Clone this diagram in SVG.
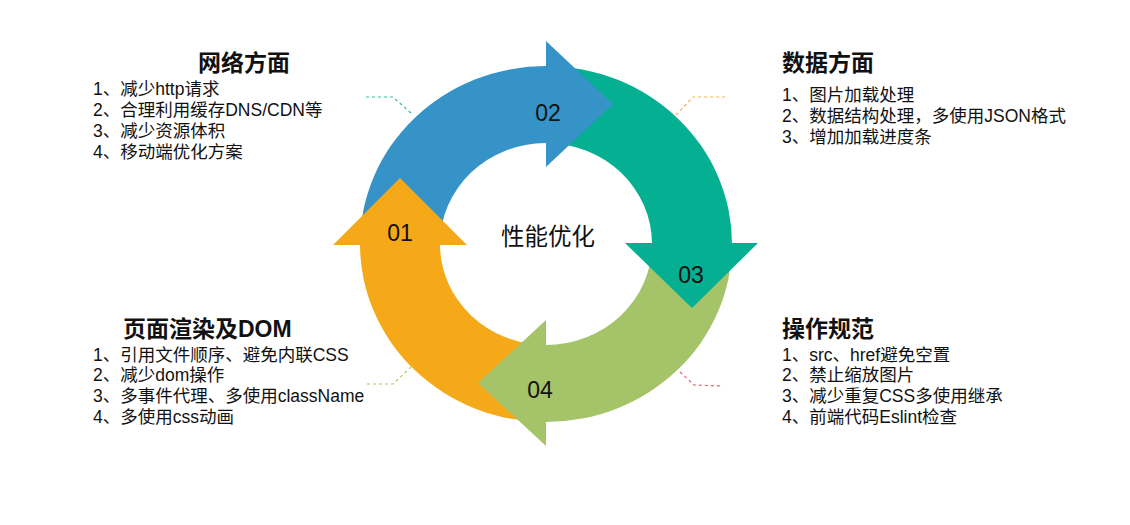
<svg xmlns="http://www.w3.org/2000/svg" width="1130" height="525" viewBox="0 0 1130 525">
<style>
text{font-family:"Liberation Sans","Noto Sans CJK SC",sans-serif;fill:#111}
.title{font-size:23px;font-weight:bold}
.item{font-size:17.5px}
.num{font-size:23px}
.center{font-size:23.5px}
.lead{fill:none;stroke-width:1.2;stroke-dasharray:3 3}
</style>
<rect width="1130" height="525" fill="#fff"/>
<g id="connectors">
<path class="lead" stroke="#3dbba0" d="M366,97 L393,97 L412,114"/>
<path class="lead" stroke="#f5b04a" d="M676,115 L693,97 L727,97"/>
<path class="lead" stroke="#bcc65a" d="M367,384 L393,384 L411,367"/>
<path class="lead" stroke="#e86565" d="M680,372 L694,385 L723,386"/>
</g>
<g id="ring">
<path fill="#3593C7" d="M360,244 A186,178 0 0 1 546,66 L546,143 A106,101 0 0 0 440,244 Z"/>
<path fill="#05AF92" d="M546,66 A186,178 0 0 1 732,244 L652,244 A106,101 0 0 0 546,143 Z"/>
<path fill="#A5C368" d="M732,244 A186,178 0 0 1 546,422 L546,345 A106,101 0 0 0 652,244 Z"/>
<path fill="#F5A918" d="M546,422 A186,178 0 0 1 360,244 L440,244 A106,101 0 0 0 546,345 Z"/>
<polygon fill="#3593C7" points="546,41 613,104 546,167"/>
<polygon fill="#05AF92" points="625,243 758,243 692,308"/>
<polygon fill="#A5C368" points="546,320 546,446 478,383"/>
<polygon fill="#F5A918" points="333,245 467,245 400,178"/>
</g>
<g id="center"><text class="center" x="548" y="245" text-anchor="middle">性能优化</text></g>
<g id="n01"><text class="num" x="400" y="241" text-anchor="middle">01</text></g>
<g id="n02"><text class="num" x="548" y="121" text-anchor="middle">02</text></g>
<g id="n03"><text class="num" x="691" y="283" text-anchor="middle">03</text></g>
<g id="n04"><text class="num" x="540" y="398" text-anchor="middle">04</text></g>
<g id="network">
<text class="title" x="198" y="71">网络方面</text>
<text class="item" x="93" y="95">1、减少http请求</text>
<text class="item" x="93" y="116">2、合理利用缓存DNS/CDN等</text>
<text class="item" x="93" y="137">3、减少资源体积</text>
<text class="item" x="93" y="158">4、移动端优化方案</text>
</g>
<g id="data">
<text class="title" x="782" y="71">数据方面</text>
<text class="item" x="782" y="101">1、图片加载处理</text>
<text class="item" x="782" y="122">2、数据结构处理，多使用JSON格式</text>
<text class="item" x="782" y="143">3、增加加载进度条</text>
</g>
<g id="render">
<text class="title" x="123" y="337">页面渲染及DOM</text>
<text class="item" x="93" y="361">1、引用文件顺序、避免内联CSS</text>
<text class="item" x="93" y="381">2、减少dom操作</text>
<text class="item" x="93" y="402">3、多事件代理、多使用className</text>
<text class="item" x="93" y="423">4、多使用css动画</text>
</g>
<g id="ops">
<text class="title" x="782" y="337">操作规范</text>
<text class="item" x="782" y="361">1、src、href避免空置</text>
<text class="item" x="782" y="381">2、禁止缩放图片</text>
<text class="item" x="782" y="402">3、减少重复CSS多使用继承</text>
<text class="item" x="782" y="423">4、前端代码Eslint检查</text>
</g>
</svg>
